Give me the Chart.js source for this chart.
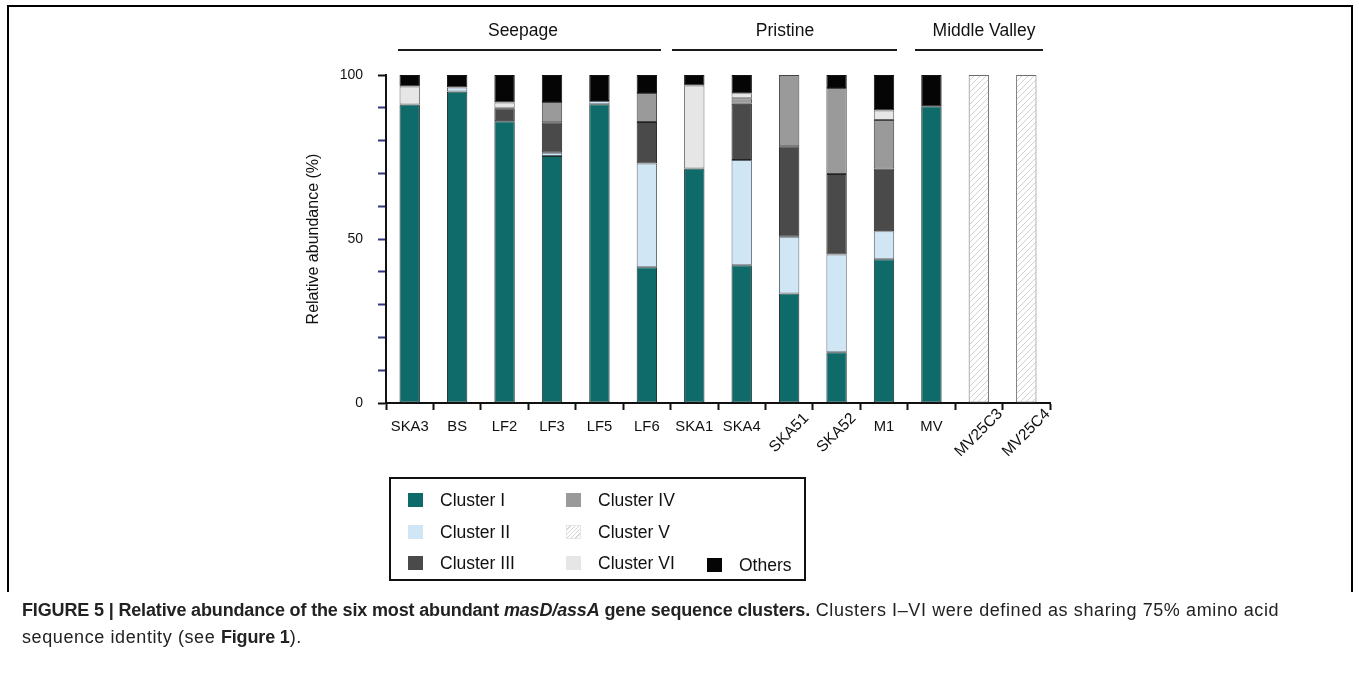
<!DOCTYPE html>
<html>
<head>
<meta charset="utf-8">
<script src="https://cdn.jsdelivr.net/npm/chart.js@4.4.1/dist/chart.umd.min.js"></script>
<style>
  html, body { margin: 0; padding: 0; background: #fff; }
  body { width: 1359px; height: 674px; position: relative; overflow: hidden;
         font-family: "Liberation Sans", Arial, sans-serif; color: #111; }
  #wrap { position: absolute; left: 0; top: 0; width: 1359px; height: 674px; }
  .frame { position: absolute; background: #000; }
  .group { position: absolute; font-size: 17.5px; text-align: center; }
  .groupLine { position: absolute; height: 2px; background: #1a1a1a; }
  #legend { position: absolute; left: 389px; top: 477px; width: 413px; height: 100px;
            border: 2px solid #111; font-size: 17.5px; }
  .item { position: absolute; display: flex; align-items: center; white-space: nowrap; }
  .swatch { width: 15px; height: 14px; margin-right: 17px; box-sizing: border-box; }
  #caption { position: absolute; left: 22px; top: 597px; font-size: 18px; line-height: 27px;
             color: #222; white-space: nowrap; }
  #caption b { letter-spacing: -0.15px; }
  #caption .reg { letter-spacing: 0.6px; }
</style>
</head>
<body>
<div class="frame" style="left:7px; top:5px; width:1346px; height:2px;"></div>
<div class="frame" style="left:7px; top:5px; width:2px; height:587px;"></div>
<div class="frame" style="left:1351px; top:5px; width:2px; height:587px;"></div>

<div id="wrap"><canvas id="chart" width="1359" height="674"></canvas></div>

<div class="group" style="left:423px; width:200px; top:20px;">Seepage</div>
<div class="groupLine" style="left:398px; width:263px; top:49px;"></div>
<div class="group" style="left:685px; width:200px; top:20px;">Pristine</div>
<div class="groupLine" style="left:672px; width:225px; top:49px;"></div>
<div class="group" style="left:884px; width:200px; top:20px;">Middle Valley</div>
<div class="groupLine" style="left:915px; width:128px; top:49px;"></div>

<div id="legend"></div>

<div id="caption"><b>FIGURE 5 | Relative abundance of the six most abundant <i>masD/assA</i> gene sequence clusters.</b><span class="reg"> Clusters I–VI were defined as sharing 75% amino acid</span><br><span class="reg">sequence identity (see </span><b>Figure 1</b><span class="reg">).</span></div>

<script>
// samples along the x axis
const samples = ['SKA3', 'BS', 'LF2', 'LF3', 'LF5', 'LF6', 'SKA1', 'SKA4', 'SKA51', 'SKA52', 'M1', 'MV', 'MV25C3', 'MV25C4'];
const rotatedLabels = ['SKA51', 'SKA52', 'MV25C3', 'MV25C4'];

// relative abundance (%) per cluster, stacked bottom to top
const clusterI   = [91.0, 95.0, 85.9, 75.3, 91.1, 41.4, 71.5, 42.0, 33.4, 15.5, 43.8, 90.5, null, null];
const clusterII  = [null, 1.2, null, 1.0, 1.0, 31.6, null, 32.1, 17.3, 29.8, 8.6, null, null, null];
const clusterIII = [null, null, 4.0, 9.3, null, 12.7, null, 17.1, 27.6, 24.5, 19.1, null, null, null];
const clusterIV  = [null, null, null, 6.2, null, 8.8, null, 1.7, 21.7, 26.2, 14.8, null, null, null];
const clusterV   = [null, null, null, null, null, null, null, null, null, null, null, null, 100, 100];
const clusterVI  = [5.5, null, 1.7, null, null, null, 25.3, 1.5, null, null, 2.9, null, null, null];
const others     = [3.5, 3.8, 8.4, 8.2, 7.9, 5.5, 3.2, 5.6, null, 4.0, 10.8, 9.5, null, null];

const ctx = document.getElementById('chart').getContext('2d');

function hatchPattern() {
  const c = document.createElement('canvas');
  c.width = 6; c.height = 6;
  const g = c.getContext('2d');
  g.fillStyle = '#ffffff';
  g.fillRect(0, 0, 6, 6);
  g.strokeStyle = '#d2d2d2';
  g.lineWidth = 1;
  g.beginPath();
  g.moveTo(0, 6); g.lineTo(6, 0);
  g.moveTo(-1, 1); g.lineTo(1, -1);
  g.moveTo(5, 7); g.lineTo(7, 5);
  g.stroke();
  return ctx.createPattern(c, 'repeat');
}

const series = [
  { label: 'Cluster I',   data: clusterI,   color: '#0e6b69', border: '#1d2b2b', css: '#0e6b69' },
  { label: 'Cluster II',  data: clusterII,  color: '#d0e6f5', border: '#5a6670', css: '#d0e6f5' },
  { label: 'Cluster III', data: clusterIII, color: '#4a4a4a', border: '#222222', css: '#4a4a4a' },
  { label: 'Cluster IV',  data: clusterIV,  color: '#9a9a9a', border: '#444444', css: '#9a9a9a' },
  { label: 'Cluster V',   data: clusterV,   color: hatchPattern(), border: '#6e6e6e',
    css: 'repeating-linear-gradient(135deg, #fff 0 2px, #d6d6d6 2px 3px)' },
  { label: 'Cluster VI',  data: clusterVI,  color: '#e6e6e6', border: '#666666', css: '#e6e6e6' },
  { label: 'Others',      data: others,     color: '#050505', border: '#111111', css: '#050505' }
];

const xLabels = {
  id: 'xLabels',
  afterDraw(chart) {
    const { ctx, scales: { x } } = chart;
    ctx.save();
    ctx.fillStyle = '#111';
    ctx.textAlign = 'center';
    ctx.textBaseline = 'middle';
    samples.forEach((s, i) => {
      const cx = x.getPixelForValue(i);
      if (rotatedLabels.includes(s)) {
        ctx.save();
        ctx.font = '15.5px "Liberation Sans", Arial, sans-serif';
        ctx.translate(cx, 433);
        ctx.rotate(-Math.PI / 4);
        ctx.fillText(s, 0, 0);
        ctx.restore();
      } else {
        ctx.font = '14.8px "Liberation Sans", Arial, sans-serif';
        ctx.fillText(s, cx, 427);
      }
    });
    ctx.restore();
  }
};

new Chart(ctx, {
  type: 'bar',
  data: {
    labels: samples,
    datasets: series.map(s => ({
      label: s.label,
      data: s.data,
      backgroundColor: s.color,
      borderColor: s.border,
      borderWidth: 1,
      borderSkipped: false,
      categoryPercentage: 1,
      barPercentage: 0.43
    }))
  },
  options: {
    responsive: false,
    animation: false,
    devicePixelRatio: 1,
    layout: { padding: { left: 300, top: 75, right: 309, bottom: 261 } },
    plugins: { legend: { display: false }, tooltip: { enabled: false } },
    scales: {
      x: {
        stacked: true,
        offset: true,
        afterFit: (scale) => { scale.height = 10; },
        ticks: { display: false },
        grid: { offset: true, drawOnChartArea: false, drawTicks: true, tickLength: 7, tickWidth: 2, tickColor: '#111' },
        border: { display: true, color: '#111', width: 2 }
      },
      y: {
        stacked: true,
        min: 0,
        max: 100,
        afterFit: (scale) => { scale.width = 86; },
        ticks: {
          stepSize: 10,
          padding: 15,
          color: '#111',
          font: { family: '"Liberation Sans", Arial, sans-serif', size: 14 },
          callback: (v) => (v % 50 === 0 ? v : '')
        },
        grid: {
          drawOnChartArea: false,
          drawTicks: true,
          tickLength: 8,
          tickWidth: 2,
          tickColor: (c) => (c.tick && (c.tick.value === 0 || c.tick.value === 100) ? '#111' : '#34347e')
        },
        border: { display: true, color: '#111', width: 2 },
        title: {
          display: true,
          text: 'Relative abundance (%)',
          color: '#111',
          font: { family: '"Liberation Sans", Arial, sans-serif', size: 16 }
        }
      }
    }
  },
  plugins: [xLabels]
});

// legend box: three rows, two columns plus "Others"
const legendPos = [
  [408, 493], [408, 525], [408, 556],
  [566, 493], [566, 525], [566, 556],
  [707, 558]
];
const legend = document.getElementById('legend');
series.forEach((s, i) => {
  const [lx, ly] = legendPos[i];
  const item = document.createElement('div');
  item.className = 'item';
  item.style.left = (lx - 391) + 'px';
  item.style.top = (ly - 479 - 4) + 'px';
  item.style.height = '22px';
  const sw = document.createElement('div');
  sw.className = 'swatch';
  sw.style.background = s.css;
  if (s.label === 'Cluster V') sw.style.border = '1px solid #e6e6e6';
  const t = document.createElement('span');
  t.textContent = s.label;
  item.appendChild(sw);
  item.appendChild(t);
  legend.appendChild(item);
});
</script>
</body>
</html>
